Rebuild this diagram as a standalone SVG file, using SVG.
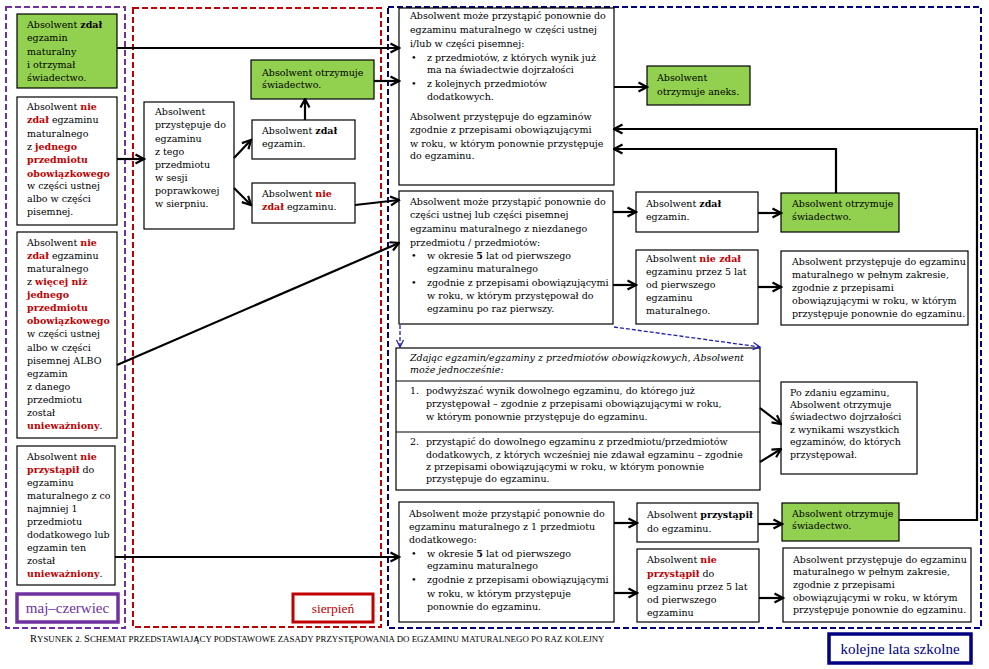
<svg xmlns="http://www.w3.org/2000/svg" width="989" height="669" viewBox="0 0 989 669">
<style>
.t{font-family:"DejaVu Serif","Liberation Serif",serif;font-size:9.5px;fill:#000}
.s{font-size:9.5px}
.b{font-weight:bold}
.r{font-weight:bold;fill:#c00000}
.i{font-style:italic}
.box{fill:#fff;stroke:#000;stroke-width:1.2}
.g{fill:#92d050;stroke:#000;stroke-width:1.2}
.ar{stroke:#000;stroke-width:2.2;fill:none;marker-end:url(#ah)}
.da{stroke:#1f1fb4;stroke-width:1.3;fill:none;stroke-dasharray:4,2;marker-end:url(#ahb)}
.cont{fill:none;stroke-width:2;stroke-dasharray:6,3}
.lab{font-family:"Liberation Serif","DejaVu Serif",serif}
</style>
<defs>
<marker id="ah" markerUnits="userSpaceOnUse" markerWidth="12" markerHeight="12" viewBox="0 0 12 12" refX="10.5" refY="6" orient="auto">
<path d="M2,1.5 L10.5,6 L2,10.5" fill="none" stroke="#000" stroke-width="2.2"/>
</marker>
<marker id="ahb" markerUnits="userSpaceOnUse" markerWidth="10" markerHeight="10" viewBox="0 0 10 10" refX="9" refY="5" orient="auto">
<path d="M2,1.5 L9,5 L2,8.5" fill="none" stroke="#1f1fb4" stroke-width="1.3"/>
</marker>
</defs>
<rect width="989" height="669" fill="#fff"/>

<g id="containers">
<rect class="cont" x="6" y="7" width="119" height="621" stroke="#7030a0"/>
<rect class="cont" x="133" y="8" width="248" height="619" stroke="#c00000"/>
<rect class="cont" x="388" y="7" width="593" height="621" stroke="#000080"/>
</g>

<g id="label-maj">
<rect x="17" y="594" width="101" height="28" fill="#fff" stroke="#7030a0" stroke-width="3.5"/>
<text class="lab" x="67.5" y="613" text-anchor="middle" style="font-size:15px;fill:#7030a0">maj–czerwiec</text>
</g>
<g id="label-sierpien">
<rect x="293" y="594" width="80" height="28" fill="#fff" stroke="#c00000" stroke-width="3"/>
<text class="lab" x="333" y="613" text-anchor="middle" style="font-size:13.5px;fill:#c00000">sierpień</text>
</g>
<g id="label-kolejne">
<rect x="829" y="634" width="142" height="29" fill="#fff" stroke="#000080" stroke-width="3.5"/>
<text class="lab" x="900" y="654" text-anchor="middle" style="font-size:15px;fill:#000080">kolejne lata szkolne</text>
</g>

<g id="caption">
<text class="lab" x="30" y="642" style="font-size:8.9px"><tspan style="font-size:10.5px">R</tspan>YSUNEK 2. <tspan style="font-size:10.5px">S</tspan>CHEMAT PRZEDSTAWIAJĄCY PODSTAWOWE ZASADY PRZYSTĘPOWANIA DO EGZAMINU MATURALNEGO PO RAZ KOLEJNY</text>
</g>

<g id="n-zdal-otrzymal">
<rect class="g" x="17" y="14" width="100" height="74"/>
<text class="t" x="27" y="28">Absolwent <tspan class="b">zdał</tspan></text>
<text class="t" x="27" y="41">egzamin</text>
<text class="t" x="27" y="55">maturalny</text>
<text class="t" x="27" y="68">i otrzymał</text>
<text class="t" x="27" y="81">świadectwo.</text>
</g>

<g id="n-nie-zdal-jednego">
<rect class="box" x="17" y="97" width="100" height="128"/>
<text class="t" x="27" y="110">Absolwent <tspan class="r">nie</tspan></text>
<text class="t" x="27" y="123"><tspan class="r">zdał</tspan> egzaminu</text>
<text class="t" x="27" y="137">maturalnego</text>
<text class="t" x="27" y="150">z <tspan class="r">jednego</tspan></text>
<text class="t r" x="27" y="163">przedmiotu</text>
<text class="t r" x="27" y="177">obowiązkowego</text>
<text class="t" x="27" y="189">w części ustnej</text>
<text class="t" x="27" y="202">albo w części</text>
<text class="t" x="27" y="215">pisemnej.</text>
</g>

<g id="n-nie-zdal-wiecej">
<rect class="box" x="17" y="232" width="100" height="206"/>
<text class="t" x="27" y="246">Absolwent <tspan class="r">nie</tspan></text>
<text class="t" x="27" y="259"><tspan class="r">zdał</tspan> egzaminu</text>
<text class="t" x="27" y="272">maturalnego</text>
<text class="t" x="27" y="285">z <tspan class="r">więcej niż</tspan></text>
<text class="t r" x="27" y="298">jednego</text>
<text class="t r" x="27" y="311">przedmiotu</text>
<text class="t r" x="27" y="324">obowiązkowego</text>
<text class="t" x="27" y="337">w części ustnej</text>
<text class="t" x="27" y="351">albo w części</text>
<text class="t" x="27" y="364">pisemnej ALBO</text>
<text class="t" x="27" y="377">egzamin</text>
<text class="t" x="27" y="390">z danego</text>
<text class="t" x="27" y="403">przedmiotu</text>
<text class="t" x="27" y="416">został</text>
<text class="t" x="27" y="429"><tspan class="r">unieważniony</tspan>.</text>
</g>

<g id="n-nie-przystapil">
<rect class="box" x="17" y="446" width="98" height="139"/>
<text class="t" x="27" y="460">Absolwent <tspan class="r">nie</tspan></text>
<text class="t" x="27" y="473"><tspan class="r">przystąpił</tspan>  do</text>
<text class="t" x="27" y="486">egzaminu</text>
<text class="t" x="27" y="499">maturalnego z co</text>
<text class="t" x="27" y="512">najmniej 1</text>
<text class="t" x="27" y="525">przedmiotu</text>
<text class="t" x="27" y="538">dodatkowego lub</text>
<text class="t" x="27" y="551">egzamin ten</text>
<text class="t" x="27" y="564">został</text>
<text class="t" x="27" y="577"><tspan class="r">unieważniony</tspan>.</text>
</g>

<g id="n-sesja-poprawkowa">
<rect class="box" x="144" y="102" width="90" height="127"/>
<text class="t" x="155" y="115">Absolwent</text>
<text class="t" x="155" y="128">przystępuje do</text>
<text class="t" x="155" y="142">egzaminu</text>
<text class="t" x="155" y="155">z tego</text>
<text class="t" x="155" y="168">przedmiotu</text>
<text class="t" x="155" y="181">w sesji</text>
<text class="t" x="155" y="194">poprawkowej</text>
<text class="t" x="155" y="207">w sierpniu.</text>
</g>

<g id="n-sierpien-swiadectwo">
<rect class="g" x="251" y="60" width="123" height="39"/>
<text class="t" x="262" y="76">Absolwent otrzymuje</text>
<text class="t" x="262" y="88">świadectwo.</text>
</g>

<g id="n-sierpien-zdal">
<rect class="box" x="252" y="120" width="103" height="39"/>
<text class="t" x="262" y="134">Absolwent <tspan class="b">zdał</tspan></text>
<text class="t" x="262" y="147">egzamin.</text>
</g>

<g id="n-sierpien-nie-zdal">
<rect class="box" x="252" y="183" width="103" height="40"/>
<text class="t" x="262" y="197">Absolwent <tspan class="r">nie</tspan></text>
<text class="t" x="262" y="210"><tspan class="r">zdał</tspan> egzaminu.</text>
</g>

<g id="n-ponownie-ustnej">
<rect class="box" x="399" y="8" width="215" height="177"/>
<text class="t s" x="410" y="19">Absolwent może przystąpić ponownie do</text>
<text class="t s" x="410" y="33">egzaminu maturalnego w części ustnej</text>
<text class="t s" x="410" y="47">i/lub w części pisemnej:</text>
<text class="t s" x="411" y="61">•</text><text class="t s" x="427" y="61">z przedmiotów, z których wynik już</text>
<text class="t s" x="427" y="73">ma na świadectwie dojrzałości</text>
<text class="t s" x="411" y="87">•</text><text class="t s" x="427" y="87">z kolejnych przedmiotów</text>
<text class="t s" x="427" y="100">dodatkowych.</text>
<text class="t s" x="410" y="120">Absolwent przystępuje do egzaminów</text>
<text class="t s" x="410" y="133">zgodnie z przepisami obowiązującymi</text>
<text class="t s" x="410" y="147">w roku, w którym ponownie przystępuje</text>
<text class="t s" x="410" y="159">do egzaminu.</text>
</g>

<g id="n-aneks">
<rect class="g" x="647" y="66" width="103" height="39"/>
<text class="t s" x="657" y="81">Absolwent</text>
<text class="t s" x="657" y="95">otrzymuje aneks.</text>
</g>

<g id="n-ponownie-niezdanego">
<rect class="box" x="399" y="191" width="214" height="133"/>
<text class="t s" x="410" y="205">Absolwent może przystąpić ponownie do</text>
<text class="t s" x="410" y="218">części ustnej lub części pisemnej</text>
<text class="t s" x="410" y="232">egzaminu maturalnego z niezdanego</text>
<text class="t s" x="410" y="246">przedmiotu / przedmiotów:</text>
<text class="t s" x="411" y="259">•</text><text class="t s" x="427" y="259">w okresie <tspan class="b">5</tspan> lat od pierwszego</text>
<text class="t s" x="427" y="272">egzaminu maturalnego</text>
<text class="t s" x="411" y="286">•</text><text class="t s" x="427" y="286">zgodnie z przepisami obowiązującymi</text>
<text class="t s" x="427" y="299">w roku, w którym przystępował do</text>
<text class="t s" x="427" y="312">egzaminu po raz pierwszy.</text>
</g>

<g id="n-r2-zdal">
<rect class="box" x="636" y="192" width="122" height="40"/>
<text class="t s" x="646" y="207">Absolwent <tspan class="b">zdał</tspan></text>
<text class="t s" x="646" y="220">egzamin.</text>
</g>

<g id="n-r2-swiadectwo">
<rect class="g" x="781" y="193" width="118" height="39"/>
<text class="t s" x="792" y="207">Absolwent otrzymuje</text>
<text class="t s" x="792" y="220">świadectwo.</text>
</g>

<g id="n-r2-nie-zdal">
<rect class="box" x="636" y="250" width="122" height="74"/>
<text class="t s" x="646" y="262">Absolwent <tspan class="r">nie zdał</tspan></text>
<text class="t s" x="646" y="275">egzaminu przez 5 lat</text>
<text class="t s" x="646" y="288">od pierwszego</text>
<text class="t s" x="646" y="301">egzaminu</text>
<text class="t s" x="646" y="314">maturalnego.</text>
</g>

<g id="n-r2-pelny">
<rect class="box" x="781" y="251" width="187" height="74"/>
<text class="t s" x="792" y="265">Absolwent przystępuje do egzaminu</text>
<text class="t s" x="792" y="278">maturalnego w pełnym zakresie,</text>
<text class="t s" x="792" y="291">zgodnie z przepisami</text>
<text class="t s" x="792" y="304">obowiązującymi w roku, w którym</text>
<text class="t s" x="792" y="317">przystępuje ponownie do egzaminu.</text>
</g>

<g id="n-jednoczesnie">
<rect class="box" x="396" y="348" width="364" height="142"/>
<line x1="396" y1="381" x2="760" y2="381" stroke="#000" stroke-width="1.2"/>
<line x1="396" y1="432" x2="760" y2="432" stroke="#000" stroke-width="1.2"/>
<text class="t s i" x="410" y="361">Zdając egzamin/egzaminy z przedmiotów obowiązkowych, Absolwent</text>
<text class="t s i" x="410" y="373">może jednocześnie:</text>
<text class="t s" x="410" y="394">1.</text><text class="t s" x="426" y="394">podwyższać wynik dowolnego egzaminu, do którego już</text>
<text class="t s" x="426" y="407">przystępował – zgodnie z przepisami obowiązującymi w roku,</text>
<text class="t s" x="426" y="420">w którym ponownie przystępuje do egzaminu.</text>
<text class="t s" x="410" y="445">2.</text><text class="t s" x="426" y="445">przystąpić do dowolnego egzaminu z przedmiotu/przedmiotów</text>
<text class="t s" x="426" y="458">dodatkowych, z których wcześniej nie zdawał egzaminu – zgodnie</text>
<text class="t s" x="426" y="470">z przepisami obowiązującymi w roku, w którym ponownie</text>
<text class="t s" x="426" y="482">przystępuje do egzaminu.</text>
</g>

<g id="n-po-zdaniu">
<rect class="box" x="781" y="382" width="136" height="92"/>
<text class="t s" x="790" y="396">Po zdaniu egzaminu,</text>
<text class="t s" x="790" y="408">Absolwent otrzymuje</text>
<text class="t s" x="790" y="420">świadectwo dojrzałości</text>
<text class="t s" x="790" y="433">z wynikami wszystkich</text>
<text class="t s" x="790" y="445">egzaminów, do których</text>
<text class="t s" x="790" y="458">przystępował.</text>
</g>

<g id="n-ponownie-dodatkowego">
<rect class="box" x="399" y="502" width="215" height="120"/>
<text class="t s" x="409" y="517">Absolwent może przystąpić ponownie do</text>
<text class="t s" x="409" y="530">egzaminu maturalnego z 1 przedmiotu</text>
<text class="t s" x="409" y="543">dodatkowego:</text>
<text class="t s" x="411" y="557">•</text><text class="t s" x="427" y="557">w okresie <tspan class="b">5</tspan> lat od pierwszego</text>
<text class="t s" x="427" y="569">egzaminu maturalnego</text>
<text class="t s" x="411" y="583">•</text><text class="t s" x="427" y="583">zgodnie z przepisami obowiązującymi</text>
<text class="t s" x="427" y="597">w roku, w którym przystępuje</text>
<text class="t s" x="427" y="610">ponownie do egzaminu.</text>
</g>

<g id="n-r4-przystapil">
<rect class="box" x="637" y="503" width="121" height="39"/>
<text class="t s" x="647" y="518">Absolwent <tspan class="b">przystąpił</tspan></text>
<text class="t s" x="647" y="532">do egzaminu.</text>
</g>

<g id="n-r4-swiadectwo">
<rect class="g" x="782" y="503" width="117" height="38"/>
<text class="t s" x="792" y="517">Absolwent otrzymuje</text>
<text class="t s" x="792" y="529">świadectwo.</text>
</g>

<g id="n-r4-nie-przystapil">
<rect class="box" x="637" y="549" width="122" height="73"/>
<text class="t s" x="647" y="563">Absolwent <tspan class="r">nie</tspan></text>
<text class="t s" x="647" y="577"><tspan class="r">przystąpił</tspan> do</text>
<text class="t s" x="647" y="590">egzaminu przez 5 lat</text>
<text class="t s" x="647" y="603">od pierwszego</text>
<text class="t s" x="647" y="616">egzaminu</text>
</g>

<g id="n-r4-pelny">
<rect class="box" x="783" y="548" width="188" height="74"/>
<text class="t s" x="793" y="563">Absolwent przystępuje do egzaminu</text>
<text class="t s" x="793" y="575">maturalnego w pełnym zakresie,</text>
<text class="t s" x="793" y="588">zgodnie z przepisami</text>
<text class="t s" x="793" y="601">obowiązującymi w roku, w którym</text>
<text class="t s" x="793" y="613">przystępuje ponownie do egzaminu.</text>
</g>

<g id="connectors">
<path class="ar" d="M117,48 H399"/>
<path class="ar" d="M117,159 H144"/>
<path class="ar" d="M234,158 L251,140"/>
<path class="ar" d="M234,188 L251,205"/>
<path class="ar" d="M305,120 V99"/>
<path class="ar" d="M374,81 H399"/>
<path class="ar" d="M355,205 L399,200"/>
<path class="ar" d="M117,365 L399,243"/>
<path class="ar" d="M115,557 H399"/>
<path class="ar" d="M614,87 H647"/>
<path class="ar" d="M899,520 H977 V129 H614"/>
<path class="ar" d="M836,193 V149 H614"/>
<path class="ar" d="M613,212 H636"/>
<path class="ar" d="M758,213 H781"/>
<path class="ar" d="M613,285 H636"/>
<path class="ar" d="M758,287 H781"/>
<path class="ar" d="M760,408 L781,424"/>
<path class="ar" d="M760,462 L781,449"/>
<path class="ar" d="M614,523 H637"/>
<path class="ar" d="M758,524 H782"/>
<path class="ar" d="M614,593 H637"/>
<path class="ar" d="M759,598 H783"/>
<path class="da" d="M400,325 V347"/>
<path class="da" d="M614,327 L760,347"/>
</g>
</svg>
